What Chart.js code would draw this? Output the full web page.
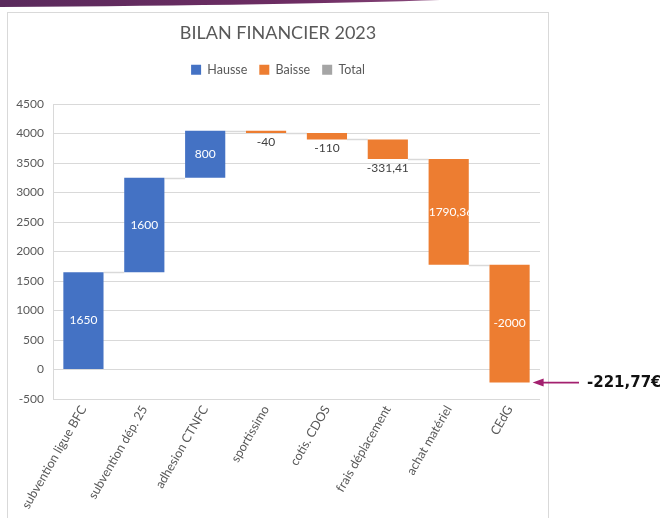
<!DOCTYPE html>
<html><head><meta charset="utf-8">
<script src="https://cdn.jsdelivr.net/npm/chart.js@4/dist/chart.umd.min.js"></script>
<style>html,body{margin:0;padding:0;background:#fff;} #wrap{position:relative;width:660px;height:518px;}</style>
</head><body><div id="wrap"><canvas id="c" width="660" height="518"></canvas></div>
<script>
const categories = ['subvention ligue BFC','subvention dép. 25','adhesion CTNFC','sportissimo','cotis. CDOS','frais déplacement','achat matériel','CEdG'];
const changes = [1650, 1600, 800, -40, -110, -331.41, -1790.36, -2000];
const seriesNames = ['Hausse', 'Baisse', 'Total'];
const seriesColors = ['#4472C4', '#ED7D31', '#A5A5A5'];
const yMin = -500, yMax = 4500, yStep = 500;
const chartTitle = 'BILAN FINANCIER 2023';
const finalLabel = '-221,77€';

// floating ranges built from the changes
const hausse = [], baisse = [], ends = [];
let running = 0;
changes.forEach(v => {
  const s = running, e = running + v;
  hausse.push(v >= 0 ? [s, e] : null);
  baisse.push(v < 0 ? [s, e] : null);
  ends.push(e);
  running = e;
});
const fmt = v => String(v).replace('.', ',');

Chart.defaults.font.family = 'Lato, "Open Sans", sans-serif';
Chart.defaults.color = '#595959';

const decor = {
  id: 'decor',
  beforeInit(chart) {
    const lg = chart.legend;
    if (lg) { const f = lg.fit; lg.fit = function(){ f.call(this); this.height += 18; }; }
  },
  beforeDraw(chart) {
    const ctx = chart.ctx;
    ctx.save();
    ctx.fillStyle = '#fff';
    ctx.fillRect(0, 0, chart.width, chart.height);
    // slide swoosh
    const g = ctx.createLinearGradient(0, 0, 440, 0);
    g.addColorStop(0, '#5a2a5c'); g.addColorStop(0.7, '#6e2d63'); g.addColorStop(1, '#8a4a7c');
    ctx.fillStyle = g;
    ctx.beginPath();
    ctx.moveTo(0, 0); ctx.lineTo(440, 0); ctx.quadraticCurveTo(300, 5, 0, 7); ctx.closePath();
    ctx.fill();
    // frame
    ctx.strokeStyle = '#d9d9d9'; ctx.lineWidth = 1;
    ctx.strokeRect(7.5, 12.5, 541, 520);
    ctx.restore();
  },
  beforeDatasetsDraw(chart) {
    const ctx = chart.ctx, y = chart.scales.y;
    const els = i => (hausse[i] ? chart.getDatasetMeta(0) : chart.getDatasetMeta(1)).data[i];
    ctx.save();
    ctx.strokeStyle = '#d9d9d9'; ctx.lineWidth = 1.5;
    for (let i = 0; i < changes.length - 1; i++) {
      const a = els(i), b = els(i + 1);
      const py = Math.round(y.getPixelForValue(ends[i])) + 0.5;
      ctx.beginPath();
      ctx.moveTo(a.x + a.width / 2, py); ctx.lineTo(b.x - b.width / 2, py);
      ctx.stroke();
    }
    ctx.restore();
  },
  afterDatasetsDraw(chart) {
    const ctx = chart.ctx;
    ctx.save();
    ctx.font = '12px Lato, "Open Sans", sans-serif';
    ctx.textAlign = 'center'; ctx.textBaseline = 'middle';
    for (let i = 0; i < changes.length; i++) {
      const meta = chart.getDatasetMeta(hausse[i] ? 0 : 1);
      const el = meta.data[i];
      const top = Math.min(el.y, el.base), bot = Math.max(el.y, el.base);
      const h = bot - top, txt = fmt(changes[i]);
      if (h > 24) {
        ctx.save();
        ctx.beginPath(); ctx.rect(el.x - el.width / 2, top, el.width, h); ctx.clip();
        ctx.fillStyle = '#ffffff';
        ctx.fillText(txt, el.x, (top + bot) / 2);
        ctx.restore();
      } else {
        ctx.fillStyle = '#404040';
        ctx.fillText(txt, el.x, bot + 9);
      }
    }
    ctx.restore();
  },
  afterDraw(chart) {
    const ctx = chart.ctx, y = chart.scales.y;
    const last = chart.getDatasetMeta(1).data[changes.length - 1];
    const py = y.getPixelForValue(ends[ends.length - 1]);
    const tip = last.x + last.width / 2 + 3;
    ctx.save();
    ctx.strokeStyle = '#a3206f'; ctx.fillStyle = '#a3206f'; ctx.lineWidth = 1.6;
    ctx.beginPath(); ctx.moveTo(tip + 8, py); ctx.lineTo(579, py); ctx.stroke();
    ctx.beginPath(); ctx.moveTo(tip, py); ctx.lineTo(tip + 11, py - 4); ctx.lineTo(tip + 11, py + 4); ctx.closePath(); ctx.fill();
    ctx.fillStyle = '#111'; ctx.font = 'bold 15px "DejaVu Sans", sans-serif';
    ctx.textAlign = 'left'; ctx.textBaseline = 'middle';
    ctx.fillText(finalLabel, 587, py + 1);
    ctx.restore();
  }
};

new Chart(document.getElementById('c'), {
  type: 'bar',
  data: {
    labels: categories,
    datasets: [
      { label: seriesNames[0], data: hausse, backgroundColor: seriesColors[0], grouped: false },
      { label: seriesNames[1], data: baisse, backgroundColor: seriesColors[1], grouped: false },
      { label: seriesNames[2], data: [], backgroundColor: seriesColors[2], grouped: false }
    ]
  },
  options: {
    responsive: false,
    animation: false,
    barPercentage: 0.66,
    categoryPercentage: 1,
    layout: { padding: { left: 16, right: 120, top: 0, bottom: 0 } },
    plugins: {
      title: { display: true, text: chartTitle, color: '#595959', font: { size: 18, weight: 'normal' }, padding: { top: 22, bottom: 8 } },
      legend: { labels: { boxWidth: 10, boxHeight: 10, font: { size: 12.5 }, color: '#595959', padding: 12 } },
      tooltip: { enabled: false }
    },
    scales: {
      x: {
        grid: { display: false, drawTicks: false },
        border: { display: false },
        ticks: { minRotation: 60, maxRotation: 60, padding: 4, font: { size: 12.5 }, color: '#595959', autoSkip: false },
        afterFit(s) { s.height = 119; }
      },
      y: {
        min: yMin, max: yMax,
        grid: { color: '#d9d9d9', drawTicks: false },
        border: { display: true, color: '#d9d9d9' },
        ticks: { stepSize: yStep, padding: 9, font: { size: 12 }, color: '#595959', callback: v => String(v) },
        afterFit(s) { s.width = 37; }
      }
    }
  },
  plugins: [decor]
});
</script></body></html>
